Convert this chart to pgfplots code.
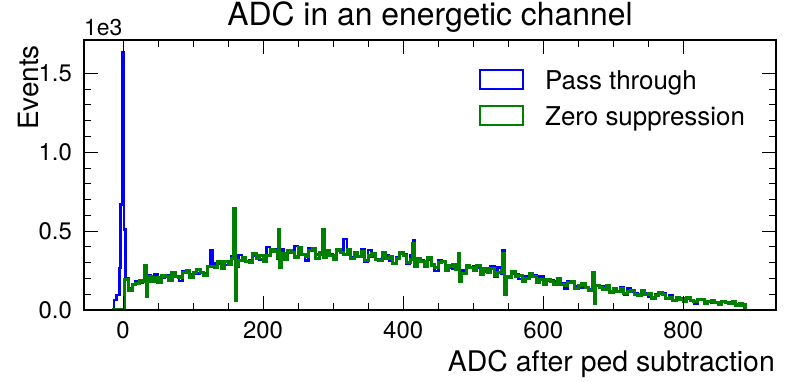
\documentclass[border=0pt]{standalone}
\usepackage{fontspec}
\setmainfont{TeX Gyre Heros}
\usepackage{pgfplots}
\usepackage{pgfplotstable}
\pgfplotsset{compat=1.18}
\definecolor{mblue}{RGB}{0,0,255}
\definecolor{mgreen}{RGB}{0,128,0}
\pgfplotstableread{
x b g
-16 0 0
-13 0.063 0
-9 0.095 0
-5.3 0.266 0
-3.3 0.67 0
-1.4 1.63 0
1.4 0.51 0
2.4 0.51 0.195
3.4 0.20 0.195
8 0.14 0.127
13 0.165 0.16
18 0.18 0.17
23 0.175 0.185
28 0.19 0.18
31 0.28 0.28
33 0.085 0.085
35 0.223 0.215
40 0.179 0.184
45 0.225 0.205
50 0.177 0.177
55 0.206 0.219
60 0.217 0.210
65 0.216 0.190
70 0.232 0.240
75 0.214 0.210
80 0.184 0.205
85 0.248 0.237
90 0.253 0.253
95 0.227 0.209
100 0.233 0.240
105 0.231 0.257
110 0.241 0.236
115 0.234 0.219
120 0.273 0.277
125 0.38 0.273
128 0.285 0.273
130 0.293 0.268
135 0.296 0.308
140 0.270 0.262
145 0.285 0.305
150 0.294 0.290
155 0.341 0.327
158 0.646 0.646
160 0.063 0.063
162 0.277 0.283
165 0.349 0.316
170 0.316 0.335
175 0.307 0.305
180 0.314 0.303
185 0.343 0.358
190 0.345 0.326
195 0.319 0.347
200 0.312 0.305
205 0.40 0.343
210 0.382 0.384
215 0.385 0.374
220 0.326 0.332
222 0.51 0.51
224 0.27 0.27
226 0.386 0.360
230 0.322 0.322
235 0.360 0.377
240 0.373 0.364
245 0.405 0.336
250 0.384 0.395
255 0.356 0.351
260 0.314 0.340
265 0.389 0.375
270 0.389 0.389
275 0.351 0.329
280 0.353 0.362
285 0.51 0.51
287 0.33 0.33
290 0.347 0.378
295 0.354 0.347
300 0.340 0.323
305 0.376 0.380
310 0.366 0.366
315 0.45 0.351
320 0.373 0.386
325 0.335 0.326
330 0.341 0.363
335 0.341 0.337
340 0.385 0.370
345 0.309 0.316
350 0.380 0.345
355 0.339 0.359
360 0.324 0.322
365 0.324 0.313
370 0.348 0.363
375 0.344 0.325
380 0.312 0.340
385 0.298 0.292
390 0.337 0.324
395 0.359 0.361
400 0.356 0.345
405 0.294 0.300
410 0.345 0.319
414 0.44 0.42
416 0.278 0.278
420 0.309 0.326
425 0.315 0.307
430 0.308 0.278
435 0.320 0.330
440 0.289 0.285
445 0.248 0.272
450 0.313 0.301
455 0.309 0.309
460 0.272 0.252
465 0.271 0.279
470 0.262 0.290
475 0.265 0.259
479 0.36 0.36
481 0.18 0.18
483 0.250 0.234
490 0.278 0.282
495 0.268 0.268
500 0.278 0.253
505 0.271 0.283
510 0.236 0.228
515 0.241 0.260
520 0.241 0.237
525 0.276 0.263
530 0.211 0.216
535 0.269 0.240
540 0.232 0.248
542 0.376 0.355
545 0.10 0.10
547 0.215 0.214
550 0.214 0.205
555 0.231 0.244
560 0.226 0.210
565 0.197 0.220
570 0.185 0.180
575 0.212 0.202
580 0.226 0.228
585 0.222 0.214
590 0.172 0.177
595 0.211 0.192
600 0.160 0.160
605 0.183 0.195
610 0.188 0.182
615 0.182 0.159
620 0.190 0.198
625 0.167 0.164
630 0.135 0.153
635 0.184 0.175
640 0.181 0.181
645 0.153 0.138
650 0.151 0.157
655 0.144 0.165
660 0.146 0.141
665 0.134 0.123
670 0.24 0.24
673 0.044 0.044
675 0.152 0.155
680 0.145 0.145
685 0.151 0.133
690 0.145 0.154
695 0.119 0.114
700 0.122 0.135
705 0.120 0.117
710 0.145 0.135
715 0.099 0.102
720 0.139 0.119
725 0.113 0.124
730 0.103 0.101
735 0.101 0.095
740 0.113 0.121
745 0.107 0.096
750 0.087 0.103
755 0.079 0.076
760 0.098 0.091
765 0.107 0.108
770 0.103 0.097
775 0.069 0.073
780 0.094 0.081
785 0.060 0.060
790 0.072 0.080
795 0.074 0.070
800 0.069 0.054
805 0.073 0.078
810 0.060 0.058
815 0.041 0.052
820 0.070 0.064
825 0.067 0.067
830 0.052 0.043
835 0.050 0.054
840 0.046 0.058
845 0.047 0.045
850 0.041 0.034
855 0.052 0.054
860 0.047 0.047
865 0.051 0.041
870 0.047 0.052
875 0.033 0.030
880 0.035 0.042
885 0.034 0.032
888 0 0
}\histdata
\begin{document}
\begin{tikzpicture}
\useasboundingbox (0,0) rectangle (788bp,382bp);
\begin{axis}[
  name=ax,
  at={(84bp,72bp)}, anchor=south west,
  scale only axis, width=692bp, height=270bp,
  xmin=-55.7, xmax=932.3, ymin=0, ymax=1.711,
  axis on top,
  axis line style={line width=2.8bp, black},
  xtick={0,200,400,600,800},
  xticklabels={0,200,400,600,800},
  minor x tick num=3,
  ytick={0,0.5,1,1.5},
  yticklabels={0.0,0.5,1.0,1.5},
  minor y tick num=4,
  tick align=inside,
  major tick length=14bp, minor tick length=7bp,
  every tick/.style={black, line width=0.9bp},
  /pgf/number format/assume math mode=true,
  tick label style={font=\fontsize{24}{28}\selectfont, inner sep=0pt},
  xticklabel style={anchor=base, yshift=-28bp},
  yticklabel style={anchor=east, xshift=-12bp},
  title={ADC in an energetic channel},
  title style={at={(axis description cs:0.5,1)}, anchor=base, yshift=9bp, inner sep=0pt, font=\fontsize{32}{38}\selectfont},
  xlabel={ADC after ped subtraction},
  xlabel style={at={(axis description cs:1,0)}, anchor=base east, yshift=-61bp, xshift=-1bp, inner sep=0pt, font=\fontsize{28.5}{34}\selectfont},
  legend cell align=left,
  legend image code/.code={\draw[#1, line width=2.2bp] (0bp,0.5bp) rectangle (43bp,19.5bp);},
  legend style={at={(axis description cs:0.5708,0.8944)}, anchor=north west, draw=none, fill=none, inner sep=0pt, outer sep=0pt,
    font=\fontsize{26}{31}\selectfont, nodes={inner sep=0pt, anchor=base west}, column sep=21bp, row sep=14bp},
]
\addplot[const plot, mblue, line width=2.6bp] table[x=x, y=b] {\histdata};
\addlegendentry{Pass through}
\addplot[const plot, mgreen, line width=3.1bp] table[x=x, y=g] {\histdata};
\addlegendentry{Zero suppression}
\end{axis}
\node[anchor=base west, inner sep=0pt, font=\fontsize{23}{27}\selectfont] at ([yshift=4bp]ax.north west) {1e3};
\node[rotate=90, anchor=base east, inner sep=0pt, font=\fontsize{28}{34}\selectfont] at ([xshift=-46bp, yshift=-5bp]ax.north west) {Events};
\end{tikzpicture}
\end{document}
